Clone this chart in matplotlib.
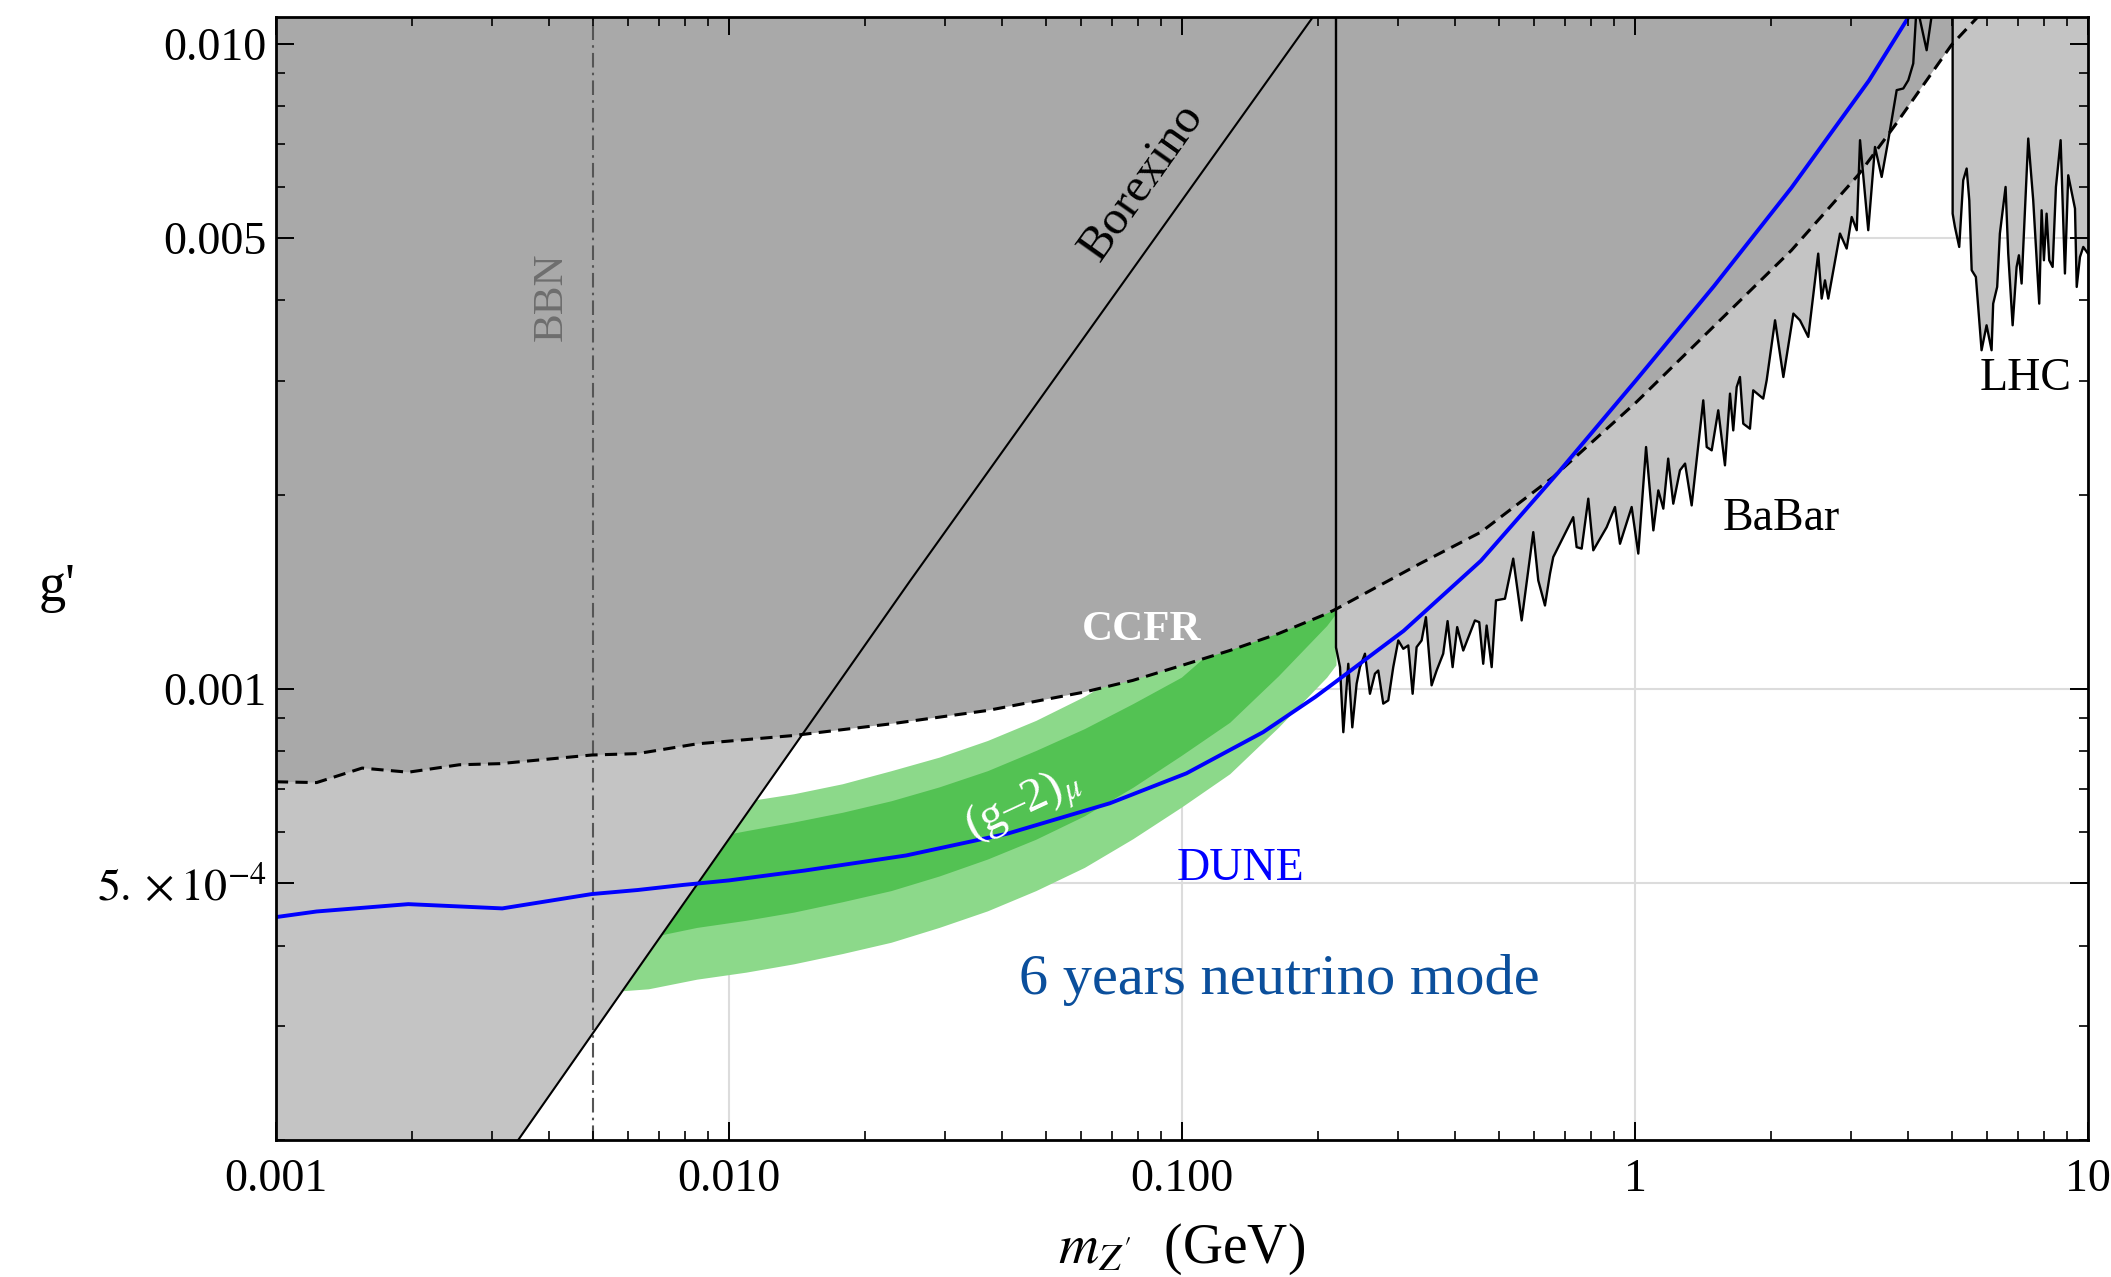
import numpy as np
import matplotlib
matplotlib.use('Agg')
import matplotlib.pyplot as plt
from matplotlib.ticker import LogLocator, NullFormatter

plt.rcParams['font.family'] = ['Liberation Serif', 'DejaVu Serif']
plt.rcParams['mathtext.fontset'] = 'stix'

# ---- data (m_Z' in GeV, g') ----
# Borexino bound (excluded to the left of the line)
borexino_m = [0.0030, 0.0068, 0.0251, 0.2]
borexino_g = [1.75e-4, 3.98e-4, 1.47e-3, 1.13e-2]

# BBN bound
bbn_m = 0.005

# CCFR bound (dashed, excluded above)
ccfr_m = [0.001, 0.00123, 0.00155, 0.00196, 0.00254, 0.00312, 0.00498, 0.00629,
          0.00849, 0.0139, 0.0228, 0.0372, 0.0609, 0.0779, 0.0997, 0.1275, 0.1632,
          0.2087, 0.2194, 0.3353, 0.457, 0.660, 1.007, 1.494, 2.215, 3.117, 3.748,
          5.00, 5.71]
ccfr_g = [7.18e-4, 7.16e-4, 7.54e-4, 7.43e-4, 7.63e-4, 7.66e-4, 7.90e-4, 7.94e-4,
          8.22e-4, 8.47e-4, 8.83e-4, 9.26e-4, 9.89e-4, 1.031e-3, 1.087e-3, 1.147e-3,
          1.218e-3, 1.308e-3, 1.331e-3, 1.564e-3, 1.75e-3, 2.13e-3, 2.783e-3,
          3.649e-3, 4.784e-3, 6.27e-3, 7.47e-3, 9.96e-3, 1.10e-2]

# DUNE sensitivity, 6 years neutrino mode
dune_m = [0.001, 0.00123, 0.00196, 0.00316, 0.00498, 0.00629, 0.00794, 0.0100,
          0.01467, 0.0246, 0.0413, 0.0693, 0.1023, 0.151, 0.197, 0.2173, 0.3084,
          0.457, 0.679, 1.007, 1.494, 2.215, 3.286, 4.06]
dune_g = [4.43e-4, 4.52e-4, 4.64e-4, 4.57e-4, 4.81e-4, 4.88e-4, 4.97e-4, 5.05e-4,
          5.23e-4, 5.52e-4, 5.97e-4, 6.65e-4, 7.40e-4, 8.57e-4, 9.72e-4, 1.023e-3,
          1.23e-3, 1.58e-3, 2.17e-3, 3.013e-3, 4.21e-3, 5.98e-3, 8.77e-3, 1.113e-2]

# BaBar bound (excluded above)
babar_m = [0.2188, 0.2188, 0.2233, 0.2271, 0.2329, 0.2377, 0.2430, 0.2471, 0.2535,
           0.2600, 0.2667, 0.2712, 0.2782, 0.2854, 0.2927, 0.3003, 0.3080, 0.3159,
           0.3230, 0.3296, 0.3381, 0.3456, 0.3557, 0.3649, 0.3773, 0.3858, 0.3958,
           0.4051, 0.4178, 0.4433, 0.4531, 0.4624, 0.4705, 0.4827, 0.4934, 0.5164,
           0.5386, 0.5622, 0.5964, 0.6117, 0.6329, 0.6493, 0.6601, 0.7307, 0.7434,
           0.7627, 0.7888, 0.8091, 0.8660, 0.9033, 0.9267, 0.9833, 1.017, 1.058,
           1.098, 1.126, 1.155, 1.184, 1.215, 1.257, 1.290, 1.334, 1.368, 1.415,
           1.440, 1.477, 1.527, 1.580, 1.621, 1.648, 1.677, 1.705, 1.734, 1.794,
           1.824, 1.919, 1.953, 2.038, 2.126, 2.237, 2.313, 2.413, 2.538, 2.583,
           2.627, 2.671, 2.835, 2.933, 3.009, 3.087, 3.139, 3.273, 3.387, 3.504,
           3.624, 3.782, 3.911, 4.012, 4.114, 4.187, 4.404, 4.555]
babar_g = [1.2e-2, 1.16e-3, 1.081e-3, 0.857e-3, 1.094e-3, 0.872e-3, 1.019e-3, 1.081e-3,
           1.134e-3, 0.983e-3, 1.056e-3, 1.068e-3, 0.949e-3, 0.960e-3, 1.081e-3,
           1.189e-3, 1.154e-3, 1.168e-3, 0.983e-3, 1.161e-3, 1.189e-3, 1.292e-3,
           1.013e-3, 1.068e-3, 1.134e-3, 1.274e-3, 1.081e-3, 1.247e-3, 1.147e-3,
           1.277e-3, 1.269e-3, 1.094e-3, 1.254e-3, 1.081e-3, 1.372e-3, 1.380e-3,
           1.592e-3, 1.277e-3, 1.750e-3, 1.473e-3, 1.347e-3, 1.509e-3, 1.601e-3,
           1.846e-3, 1.659e-3, 1.650e-3, 1.972e-3, 1.640e-3, 1.781e-3, 1.914e-3,
           1.679e-3, 1.914e-3, 1.621e-3, 2.371e-3, 1.761e-3, 2.031e-3, 1.903e-3,
           2.275e-3, 1.937e-3, 2.182e-3, 2.235e-3, 1.925e-3, 2.261e-3, 2.801e-3,
           2.371e-3, 2.343e-3, 2.703e-3, 2.221e-3, 2.869e-3, 2.516e-3, 2.937e-3,
           3.044e-3, 2.577e-3, 2.531e-3, 2.903e-3, 2.818e-3, 3.008e-3, 3.727e-3,
           3.044e-3, 3.817e-3, 3.727e-3, 3.512e-3, 4.728e-3, 4.027e-3, 4.298e-3,
           4.027e-3, 5.079e-3, 4.814e-3, 5.388e-3, 5.140e-3, 7.087e-3, 5.140e-3,
           6.918e-3, 6.216e-3, 7.087e-3, 8.473e-3, 8.523e-3, 8.779e-3, 9.318e-3,
           1.15e-2, 9.77e-3, 1.15e-2]

# LHC bound (excluded above)
lhc_m = [5.026, 5.026, 5.085, 5.197, 5.304, 5.397, 5.470, 5.537, 5.656, 5.822, 5.972,
         6.126, 6.176, 6.303, 6.390, 6.578, 6.667, 6.818, 6.957, 7.039, 7.136, 7.381,
         7.570, 7.805, 7.900, 7.993, 8.103, 8.212, 8.355, 8.497, 8.702, 8.894, 9.045,
         9.361, 9.443, 9.600, 9.763, 10.0]
lhc_g = [1.2e-2, 5.453e-3, 5.200e-3, 4.842e-3, 6.143e-3, 6.405e-3, 5.718e-3, 4.456e-3,
         4.350e-3, 3.349e-3, 3.661e-3, 3.349e-3, 3.955e-3, 4.198e-3, 5.079e-3,
         5.998e-3, 4.728e-3, 3.661e-3, 4.508e-3, 4.700e-3, 4.249e-3, 7.129e-3,
         5.718e-3, 3.955e-3, 5.519e-3, 4.617e-3, 5.453e-3, 4.617e-3, 4.508e-3,
         5.998e-3, 7.087e-3, 4.404e-3, 6.253e-3, 5.552e-3, 4.198e-3, 4.671e-3,
         4.842e-3, 4.728e-3]

# (g-2)_mu band: 2 sigma (light) and 1 sigma (dark)
band_m = [0.005, 0.00664, 0.00849, 0.0109, 0.0139, 0.0178, 0.0228, 0.0291, 0.0372,
          0.0476, 0.0609, 0.0779, 0.0997, 0.1275, 0.1632, 0.2087, 0.2188]
band2_lo = [3.38e-4, 3.43e-4, 3.55e-4, 3.64e-4, 3.75e-4, 3.89e-4, 4.05e-4, 4.27e-4,
            4.53e-4, 4.87e-4, 5.29e-4, 5.86e-4, 6.56e-4, 7.39e-4, 8.72e-4, 1.043e-3,
            1.09e-3]
band1_lo = [4.06e-4, 4.12e-4, 4.27e-4, 4.38e-4, 4.51e-4, 4.68e-4, 4.87e-4, 5.13e-4,
            5.45e-4, 5.85e-4, 6.36e-4, 7.04e-4, 7.89e-4, 8.88e-4, 1.048e-3, 1.254e-3,
            1.31e-3]
band1_hi = [5.55e-4, 5.63e-4, 5.83e-4, 6.03e-4, 6.22e-4, 6.44e-4, 6.71e-4, 7.05e-4,
            7.47e-4, 8.03e-4, 8.68e-4, 9.49e-4, 1.043e-3, 1.213e-3, 1.43e-3, 1.71e-3,
            1.79e-3]
band2_hi = [6.22e-4, 6.31e-4, 6.54e-4, 6.70e-4, 6.88e-4, 7.13e-4, 7.47e-4, 7.84e-4,
            8.32e-4, 8.94e-4, 9.74e-4, 1.079e-3, 1.208e-3, 1.36e-3, 1.605e-3, 1.92e-3,
            2.01e-3]

xticks = [0.001, 0.01, 0.1, 1, 10]
xticklabels = ['0.001', '0.010', '0.100', '1', '10']
yticks = [5e-4, 1e-3, 5e-3, 1e-2]
yticklabels = [r'$5.\times10^{-4}$', '0.001', '0.005', '0.010']

dark_gray = '#a9a9a9'
light_gray = '#c4c4c4'

fig = plt.figure(figsize=(21.11, 12.77), dpi=100)
ax = fig.add_axes([0.1307, 0.1073, 0.8584, 0.8794])
ax.set_xscale('log')
ax.set_yscale('log')
ax.set_xlim(0.001, 10)
ax.set_ylim(2e-4, 0.011)

# grid drawn under everything
for v in xticks:
    ax.axvline(v, color='#dcdcdc', lw=1.5, zorder=0)
for v in yticks:
    ax.axhline(v, color='#dcdcdc', lw=1.5, zorder=0)

# (g-2) band
ax.fill_between(band_m, band2_lo, band2_hi, color='#8cd98a', lw=0, zorder=1)
ax.fill_between(band_m, band1_lo, band1_hi, color='#53c253', lw=0, zorder=1.1)

# excluded regions
ax.fill_betweenx(borexino_g, 1e-4, borexino_m, color=light_gray, lw=0, zorder=1.2)
ax.fill_between(babar_m, babar_g, 1.0, color=light_gray, lw=0, zorder=1.2)
ax.fill_between(ccfr_m, ccfr_g, 1.0, color=dark_gray, lw=0, zorder=1.3)
ax.fill_between(lhc_m, lhc_g, 1.0, color=light_gray, lw=0, zorder=1.4)

# boundary lines
ax.axvline(bbn_m, color='#555555', lw=1.5, dashes=(7, 2.5, 1.2, 2.5), zorder=2)
ax.plot(borexino_m, borexino_g, color='black', lw=1.5, zorder=2)
ax.plot(babar_m, babar_g, color='black', lw=1.7, zorder=2)
ax.plot(lhc_m, lhc_g, color='black', lw=1.7, zorder=2)
ax.plot(ccfr_m, ccfr_g, color='black', lw=2.2, dashes=(4, 2.4), zorder=2.1)
ax.plot(dune_m, dune_g, color='#0000ff', lw=2.8, zorder=2.2)

# ticks
ax.set_axisbelow(False)
ax.set_xticks(xticks)
ax.set_xticklabels(xticklabels)
ax.set_yticks(yticks)
ax.set_yticklabels(yticklabels)
ax.xaxis.set_minor_locator(LogLocator(base=10, subs=np.arange(2, 10), numticks=20))
ax.yaxis.set_minor_locator(LogLocator(base=10, subs=np.arange(2, 10), numticks=20))
ax.xaxis.set_minor_formatter(NullFormatter())
ax.yaxis.set_minor_formatter(NullFormatter())
ax.tick_params(which='both', direction='in', top=True, right=True, colors='black')
ax.tick_params(which='major', length=13, width=1.4, labelsize=33)
ax.tick_params(axis='x', which='major', pad=13)
ax.tick_params(axis='y', which='major', pad=7)
ax.tick_params(which='minor', length=6.5, width=1.2)
for s in ax.spines.values():
    s.set_linewidth(2)
    s.set_zorder(3)

ax.set_xlabel(r'$m_{Z^{\prime}}$  (GeV)', fontsize=40)
ax.xaxis.set_label_coords(0.5, -0.097)
ax.xaxis.label.set_va('center')
ax.set_ylabel("g'", fontsize=39, rotation=0)
ax.yaxis.set_label_coords(-0.121, 0.4915)
ax.yaxis.label.set_va('center')
ax.yaxis.label.set_ha('center')

# annotations
ax.text(0.00406, 4.06e-3, 'BBN', color='#6e6e6e', fontsize=31, rotation=90,
        ha='center', va='center', zorder=3)
ax.text(0.0816, 6.10e-3, 'Borexino', color='black', fontsize=35, rotation=54.7,
        ha='center', va='center', rotation_mode='anchor', zorder=3)
ax.text(0.0816, 1.232e-3, 'CCFR', color='white', fontsize=31, fontweight='bold',
        ha='center', va='center', zorder=3)
ax.text(0.0446, 6.6e-4, r'(g–2)$_{\mu}$', color='white', fontsize=34, rotation=25,
        ha='center', va='center', rotation_mode='anchor', zorder=3)
ax.text(0.1349, 5.27e-4, 'DUNE', color='#0000ff', fontsize=33,
        ha='center', va='center', zorder=3)
ax.text(2.10, 1.838e-3, 'BaBar', color='black', fontsize=33,
        ha='center', va='center', zorder=3)
ax.text(7.30, 3.03e-3, 'LHC', color='black', fontsize=33,
        ha='center', va='center', zorder=3)
ax.text(0.1637, 3.54e-4, '6 years neutrino mode', color='#0b4f9c', fontsize=42,
        ha='center', va='center', zorder=3)

fig.savefig('out.png', dpi=100)
